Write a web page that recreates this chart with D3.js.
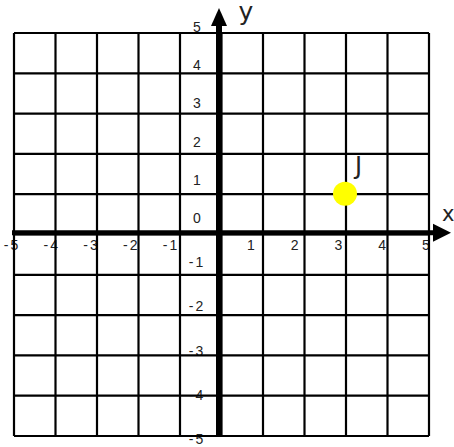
<!DOCTYPE html>
<html lang='en'>
  <head>
    <meta charset="UTF-8">
    <title>Coordinate grid</title>
    <script src="https://d3js.org/d3.v7.min.js" type="text/javascript"></script>
    <style type="text/css" media="screen">
      body { margin: 0; background: #fff; }
      text { font-family: "Liberation Sans", Arial, sans-serif; }
      .letter { font-family: "DejaVu Sans", sans-serif; }
    </style>
  </head>
<body>
</body>
  <script>

var xTicks = [-5, -4, -3, -2, -1, 1, 2, 3, 4, 5];
var yTicks = [5, 4, 3, 2, 1, 0, -1, -2, -3, -4, -5];
var gridValues = [-5, -4, -3, -2, -1, 0, 1, 2, 3, 4, 5];
var pointNames = ["J"];
var pointX = [3];
var pointY = [1];

var width = 454, height = 447;

var x = d3.scaleLinear().domain([-5, 5]).range([14, 429]);
var y = d3.scaleLinear().domain([-5, 5]).range([436, 33]);

// the labels in the picture sit a bit off the grid, so they get their own scales
var xLab = d3.scaleLinear().domain([-5, -1, 1, 5]).range([12, 171, 251, 426]);
var yLab = d3.scaleLinear().domain([5, 0, -5]).range([32, 223, 444]);

var svg = d3.select("body").append("svg")
	.attr("width", width)
	.attr("height", height);

// tick labels (drawn first, grid lines go over them)
svg.selectAll("text.xt").data(xTicks).enter().append("text")
	.attr("class", "xt")
	.attr("x", function(d){ return xLab(d); })
	.attr("y", 250)
	.attr("text-anchor", "middle")
	.attr("font-size", 14)
	.attr("letter-spacing", d => d < 0 ? 2 : 0)
	.attr("fill", "#222")
	.text(function(d){ return d; });

svg.selectAll("text.yt").data(yTicks).enter().append("text")
	.attr("class", "yt")
	.attr("x", 197)
	.attr("y", function(d){ return yLab(d); })
	.attr("text-anchor", "middle")
	.attr("font-size", 14)
	.attr("letter-spacing", d => d < 0 ? 2 : 0)
	.attr("fill", "#222")
	.text(function(d){ return d; });

// grid
svg.selectAll("line.vg").data(gridValues).enter().append("line")
	.attr("x1", d => x(d)).attr("x2", d => x(d))
	.attr("y1", y(5)).attr("y2", y(-5))
	.attr("stroke", "black").attr("stroke-width", 2.2);

svg.selectAll("line.hg").data(gridValues).enter().append("line")
	.attr("x1", x(-5)).attr("x2", x(5))
	.attr("y1", d => y(d)).attr("y2", d => y(d))
	.attr("stroke", "black").attr("stroke-width", 2.2);

// axes with arrows
var ax0 = x(0) - 2.5, ay0 = y(0) - 1.8;

svg.append("line")
	.attr("x1", x(-5) - 2).attr("x2", 437)
	.attr("y1", ay0).attr("y2", ay0)
	.attr("stroke", "black").attr("stroke-width", 5);
svg.append("path")
	.attr("d", "M433," + (ay0 - 9) + "L451," + ay0 + "L433," + (ay0 + 9) + "Z")
	.attr("fill", "black");

svg.append("line")
	.attr("x1", ax0).attr("x2", ax0)
	.attr("y1", y(-5)).attr("y2", 22)
	.attr("stroke", "black").attr("stroke-width", 6);
svg.append("path")
	.attr("d", "M" + (ax0 - 8) + ",26L" + ax0 + ",8L" + (ax0 + 8) + ",26Z")
	.attr("fill", "black");

svg.append("text").attr("class", "letter")
	.attr("x", 246).attr("y", 20)
	.attr("text-anchor", "middle")
	.attr("font-size", 25).attr("fill", "#222")
	.text("y");

svg.append("text").attr("class", "letter")
	.attr("x", 442).attr("y", 221)
	.attr("font-size", 21).attr("fill", "#222")
	.text("x");

// plotted points
var pts = pointNames.map(function(n, i){ return {name: n, x: pointX[i], y: pointY[i]}; });

svg.selectAll("circle.pt").data(pts).enter().append("circle")
	.attr("cx", d => x(d.x) - 1)
	.attr("cy", d => y(d.y) - 0.5)
	.attr("r", 12)
	.attr("fill", "#ffff00");

svg.selectAll("text.pl").data(pts).enter().append("text")
	.attr("class", "letter")
	.attr("x", d => x(d.x) + 9)
	.attr("y", d => y(d.y) - 20)
	.attr("font-size", 24).attr("fill", "#222")
	.text(d => d.name);

  </script>
</html>
